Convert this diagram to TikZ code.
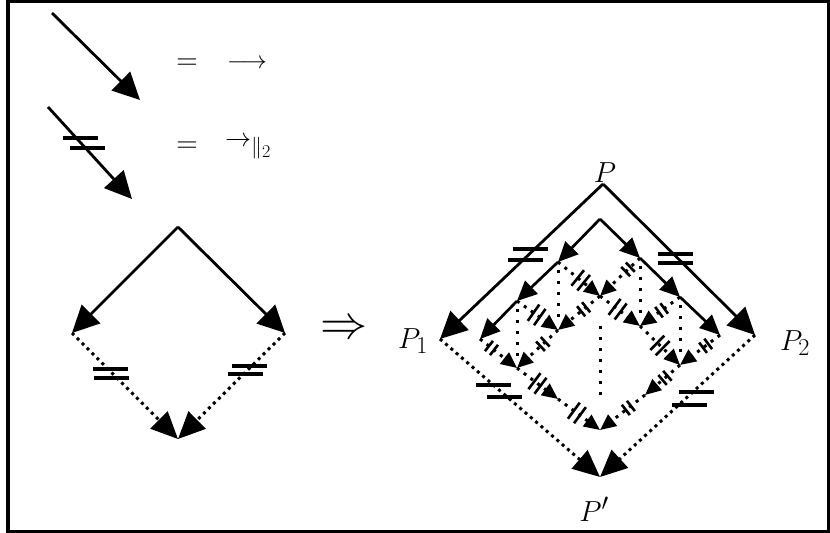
\documentclass[tikz,border=0pt]{standalone}
\usetikzlibrary{arrows.meta,decorations.markings}
\tikzset{
  solidarrow/.style={line width=2.8bp, -{Triangle[length=27bp,width=26bp]}},
  dotarrow/.style={line width=3bp, dash pattern=on 3bp off 4bp, -{Triangle[length=27bp,width=24bp]}},
  innersolid/.style={line width=2.7bp, -{Triangle[length=20bp,width=18bp]}},
  innerdot/.style={line width=3bp, dash pattern=on 3bp off 5.5bp, -{Triangle[length=16bp,width=14bp]}},
  diagdot/.style={line width=3bp, dash pattern=on 3bp off 8bp, shorten <=8bp, shorten >=8bp},
  barline/.style={solid, line width=3.2bp, -},
  ibar/.style={solid, line width=2.6bp, -},
  bigfont/.style={inner sep=0pt, font=\fontsize{24.88}{30}\selectfont},
  lbl/.style={bigfont, scale=1.17},
  lgd/.style={bigfont},
  lgdeq/.style={bigfont, scale=1.2},
  lmark/.style={postaction={decorate, decoration={markings, mark=at position #1 with {\draw[ibar] (-3.8bp,-10bp) -- (-3.8bp,10bp) (3.8bp,-10bp) -- (3.8bp,10bp);}}}},
  smark/.style={postaction={decorate, decoration={markings, mark=at position #1 with {\draw[ibar] (-3.2bp,-6.5bp) -- (-3.2bp,6.5bp) (3.2bp,-6.5bp) -- (3.2bp,6.5bp);}}}},
  pics/hbars/.style n args={4}{code={
    \draw[barline] (#1-17.5,#2) -- ++(35,0);
    \draw[barline] (#3-17.5,#4) -- ++(35,0);}},
}
\begin{document}
\begin{tikzpicture}[x=1bp,y=-1bp]
\useasboundingbox (0,0) rectangle (830,533);
\draw[line width=3.3bp] (8,1.7) rectangle (828.3,531.5);

% legend
\coordinate (La) at (52,13);
\coordinate (Lb) at (140,100);
\coordinate (Lc) at (48,107);
\coordinate (Ld) at (132,199);
\draw[solidarrow] (La) -- (Lb);
\draw[solidarrow] (Lc) -- coordinate[pos=0.391] (mL) (Ld);
\pic at (mL) {hbars={-0.4}{-5}{7.1}{5}};
\node[lgdeq] (eq1) at (187,64) {$=$};
\node[lgd] (ar1) at (247,64) {$\longrightarrow$};
\node[lgdeq] (eq2) at (187,147) {$=$};
\node[bigfont, scale=1.05, anchor=base west] (ar2) at (225,146.5) {$\rightarrow_{\|_2}$};

% left diamond
\coordinate (DT) at (178,227);
\coordinate (DL) at (72,333);
\coordinate (DR) at (285,333);
\coordinate (DB) at (178,439);
\draw[solidarrow] (DT) -- (DL);
\draw[solidarrow] (DT) -- (DR);
\draw[dotarrow] (DL) -- coordinate[pos=0.382] (mDL) (DB);
\draw[dotarrow] (DR) -- coordinate[pos=0.349] (mDR) (DB);
\pic at (mDL) {hbars={-2}{-4.5}{-0.5}{4.5}};
\pic at (mDR) {hbars={1.8}{-4}{-2.2}{4}};

\node[bigfont, scale=1.9] (impl) at (344.5,330) {$\Rightarrow$};

% right diagram, outer
\coordinate (P0) at (603,184);
\coordinate (P1) at (440,339);
\coordinate (P2) at (755,335);
\coordinate (Pp) at (600,477);
\node[lbl, anchor=base] (lP) at (605,183) {$P$};
\node[lbl, anchor=base] (lP1) at (413,348) {$P_1$};
\node[lbl, anchor=base] (lP2) at (795,350) {$P_2$};
\node[lbl, anchor=base] (lPp) at (594,521) {$P'$};
\draw[solidarrow] (P0) -- coordinate[pos=0.455] (m4) (P1);
\draw[solidarrow] (P0) -- coordinate[pos=0.493] (m5) (P2);
\draw[dotarrow] (P1) -- coordinate[pos=0.377] (m6) (Pp);
\draw[dotarrow] (P2) -- coordinate[pos=0.447] (m7) (Pp);
\pic at (m4) {hbars={1.7}{-5.5}{-3.3}{5.5}};
\pic at (m5) {hbars={-2.5}{-4.5}{-2}{4.5}};
\pic at (m6) {hbars={-6.8}{-6}{4.2}{6}};
\pic at (m7) {hbars={10.8}{-6.5}{3.3}{6.5}};

% inner grid
\coordinate (T)   at (600,219);
\coordinate (G10) at (558,262);
\coordinate (G20) at (517,301);
\coordinate (G30) at (480,339);
\coordinate (G01) at (640,258);
\coordinate (G02) at (680,297);
\coordinate (G03) at (720,335);
\coordinate (G11) at (600,296);
\coordinate (G21) at (558,330);
\coordinate (G12) at (640,326);
\coordinate (G31) at (517,368);
\coordinate (G32) at (558,399);
\coordinate (G13) at (680,365);
\coordinate (G23) at (645,395);
\coordinate (G33) at (600,430);

\draw[innersolid] (T) -- (G10);
\draw[innersolid] (G10) -- (G20);
\draw[innersolid] (G20) -- (G30);
\draw[innersolid] (T) -- (G01);
\draw[innersolid] (G01) -- (G02);
\draw[innersolid] (G02) -- (G03);

\draw[innerdot, lmark=0.54] (G10) -- (G11);
\draw[innerdot, smark=0.30] (G01) -- (G11);
\draw[innerdot, lmark=0.48] (G20) -- (G21);
\draw[innerdot, smark=0.39] (G11) -- (G21);
\draw[innerdot, lmark=0.44] (G11) -- (G12);
\draw[innerdot, smark=0.46] (G02) -- (G12);
\draw[innerdot, smark=0.31] (G30) -- (G31);
\draw[innerdot, smark=0.37] (G21) -- (G31);
\draw[innerdot, lmark=0.50] (G12) -- (G13);
\draw[innerdot, smark=0.36] (G03) -- (G13);
\draw[innerdot, lmark=0.50] (G31) -- (G32);
\draw[innerdot, smark=0.43] (G13) -- (G23);
\draw[innerdot, lmark=0.45] (G32) -- (G33);
\draw[innerdot, smark=0.37] (G23) -- (G33);

\draw[diagdot] (G10) -- (G21);
\draw[diagdot] (G01) -- (G12);
\draw[diagdot] (G20) -- (G31);
\draw[diagdot] (G02) -- (G13);
\draw[diagdot, shorten <=30bp, shorten >=30bp] (G11) -- (G33);
\end{tikzpicture}
\end{document}
